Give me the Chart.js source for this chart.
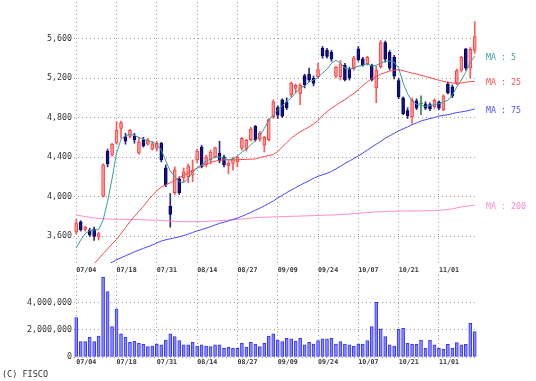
<!DOCTYPE html>
<html><head><meta charset="utf-8">
<script src="https://cdn.jsdelivr.net/npm/chart.js@4.4.1/dist/chart.umd.min.js"></script>
<style>
html,body{margin:0;padding:0;background:#fff;}
#wrap{position:relative;width:536px;height:381px;overflow:hidden;background:#fff;}
canvas{position:absolute;left:0;}
#main{top:0;width:536px;height:280px;}
#vol{top:270px;width:536px;height:100px;}
#copy{position:absolute;left:2px;top:369px;font:8.5px 'DejaVu Sans Mono',monospace;color:#333;line-height:10px;}
</style></head><body>
<div id="wrap">
<canvas id="main" width="536" height="280"></canvas>
<canvas id="vol" width="536" height="100"></canvas>
<div id="copy">(C) FISCO</div>
</div>
<script>
const dates = ['07/04','07/05','07/08','07/09','07/10','07/11','07/12','07/16','07/17','07/18',
'07/19','07/22','07/23','07/24','07/25','07/26','07/29','07/30','07/31','08/01',
'08/02','08/05','08/06','08/07','08/08','08/09','08/13','08/14','08/15','08/16',
'08/19','08/20','08/21','08/22','08/23','08/26','08/27','08/28','08/29','08/30',
'09/02','09/03','09/04','09/05','09/06','09/09','09/10','09/11','09/12','09/13',
'09/17','09/18','09/19','09/20','09/24','09/25','09/26','09/27','09/30','10/01',
'10/02','10/03','10/04','10/07','10/08','10/09','10/10','10/11','10/15','10/16',
'10/17','10/18','10/21','10/22','10/23','10/24','10/25','10/28','10/29','10/30',
'10/31','11/01','11/05','11/06','11/07','11/08','11/11','11/12','11/13','11/14'];
const tickDates = ['07/04','07/18','07/31','08/14','08/27','09/09','09/24','10/07','10/21','11/01'];

const open  = [3640,3745,3668,3660,3668,3590,4000,4460,4420,4540, 4690,4605,4610,4610,4440,4570,4530,4480,4490,4540,
               4290,3900,4040,4180,4185,4200,4220,4370,4500,4320, 4370,4400,4440,4400,4310,4335,4350,4490,4480,4575,
               4710,4580,4520,4575,4810,4900,4980,4960,5030,5095, 5045,5225,5240,5200,5215,5500,5480,5460,5220,5215,
               5330,5290,5295,5495,5395,5345,5330,5100,5315,5560, 5460,5410,5175,5000,4870,4810,4970,4940,4940,4930,
               4910,4960,4880,5140,5110,5150,5280,5495,5300,5480];
const high  = [3770,3755,3700,3680,3690,3640,4330,4480,4540,4760, 4765,4640,4680,4640,4600,4600,4590,4560,4560,4550,
               4320,4030,4300,4200,4290,4330,4370,4480,4520,4420, 4470,4500,4560,4420,4360,4400,4410,4600,4580,4700,
               4720,4660,4610,4790,4980,4920,4990,5000,5160,5140, 5145,5240,5300,5220,5350,5520,5500,5480,5320,5380,
               5350,5310,5420,5520,5410,5420,5340,5320,5580,5575, 5480,5430,5200,5010,4900,5000,4990,5020,4960,4950,
               4990,4970,5030,5160,5130,5290,5420,5500,5510,5770];
const low   = [3620,3650,3650,3595,3555,3560,3995,4300,4410,4530, 4590,4530,4590,4540,4430,4500,4520,4470,4460,4350,
               4100,3690,4020,4020,4150,4140,4150,4340,4290,4300, 4330,4390,4340,4300,4230,4270,4300,4470,4460,4560,
               4560,4560,4450,4560,4790,4790,4800,4880,5010,5050, 4930,5100,5160,5120,5200,5400,5400,5370,5200,5180,
               5170,5180,5280,5370,5320,5330,5170,4950,5300,5360, 5280,5190,4990,4830,4790,4740,4880,4830,4880,4870,
               4890,4880,4870,5040,5000,5130,5260,5280,5200,5450];
const close = [3730,3665,3690,3615,3595,3625,4320,4330,4530,4670, 4750,4560,4670,4575,4555,4515,4575,4535,4540,4370,
               4120,3820,4270,4040,4250,4310,4265,4460,4300,4400, 4450,4495,4360,4320,4340,4385,4400,4590,4570,4680,
               4575,4640,4600,4780,4960,4825,4815,4900,5150,5125, 5125,5130,5180,5145,5285,5425,5420,5390,5310,5345,
               5180,5200,5405,5385,5330,5410,5180,5280,5560,5390, 5300,5220,5010,4840,4820,4975,4895,4940,4895,4890,
               4975,4895,5020,5050,5020,5275,5410,5300,5490,5620];
const volume = [2900000,1130000,1130000,1450000,1130000,1550000,5880000,4820000,2240000,3540000,
                1700000,1450000,1080000,1160000,1010000,930000,760000,810000,960000,890000,
                1250000,1700000,1500000,1210000,890000,890000,1080000,810000,890000,810000,
                760000,890000,890000,640000,710000,640000,640000,1010000,710000,1080000,
                960000,760000,1010000,1550000,1700000,1250000,1130000,1380000,1330000,1180000,
                1380000,890000,1080000,960000,1210000,1330000,1330000,1380000,960000,1130000,
                960000,890000,810000,960000,960000,1210000,2240000,4030000,2070000,1500000,
                890000,810000,2040000,2120000,1010000,930000,930000,1250000,640000,1250000,
                890000,640000,570000,930000,640000,1060000,890000,930000,2480000,1870000];

const ma5 = [3480,3560,3625,3655,3660,3665,3760,3950,4180,4440, 4580,4615,4630,4620,4600,4580,4565,4550,4530,4470,
             4360,4260,4200,4150,4140,4180,4250,4290,4320,4355, 4380,4400,4398,4388,4370,4380,4410,4450,4480,4525,
             4570,4615,4690,4770,4830,4880,4920,4960,5000,5050, 5100,5120,5160,5180,5205,5250,5290,5350,5380,5350,
             5300,5290,5305,5320,5330,5345,5320,5330,5350,5370, 5370,5360,5300,5150,5040,4965,4935,4922,4915,4920,
             4930,4940,4955,4975,5030,5110,5180,5260,5360,5420];
const ma25 = [null,null,null,null,3320,3370,3420,3470,3520,3565, 3625,3685,3745,3800,3850,3900,3960,4010,4060,4095,
              4120,4140,4160,4190,4215,4240,4260,4285,4310,4330, 4345,4358,4368,4372,4372,4370,4372,4375,4376,4378,
              4381,4395,4405,4415,4425,4455,4500,4545,4590,4625, 4655,4680,4705,4735,4770,4820,4860,4895,4925,4955,
              4980,5015,5045,5080,5125,5160,5195,5215,5240,5255, 5270,5280,5285,5275,5262,5250,5240,5228,5215,5204,
              5190,5178,5165,5158,5150,5145,5150,5158,5163,5167];
const ma75 = [null,null,null,null,null,null,null,3310,3335,3360, 3380,3400,3420,3440,3458,3475,3492,3510,3530,3550,
              3562,3572,3582,3592,3605,3620,3636,3652,3665,3680, 3695,3712,3728,3740,3754,3768,3782,3800,3820,3840,
              3862,3882,3905,3930,3955,3985,4012,4040,4065,4090, 4115,4138,4160,4185,4205,4220,4235,4255,4280,4305,
              4335,4360,4385,4412,4440,4470,4500,4530,4558,4590, 4615,4640,4665,4685,4705,4728,4745,4765,4778,4790,
              4800,4815,4822,4828,4840,4850,4857,4865,4875,4887];
const ma200 = [3812,3805,3797,3790,3784,3779,3776,3773,3771,3769, 3769,3769,3769,3768,3766,3764,3762,3761,3760,3758,
               3755,3752,3748,3745,3745,3745,3745,3745,3745,3747, 3750,3753,3756,3759,3762,3765,3768,3772,3776,3781,
               3786,3789,3791,3792,3794,3795,3797,3798,3800,3801, 3802,3804,3805,3807,3809,3810,3812,3813,3815,3817,
               3820,3823,3827,3830,3834,3838,3841,3845,3846,3848, 3850,3851,3852,3853,3854,3854,3855,3855,3856,3856,
               3857,3860,3864,3869,3876,3885,3895,3902,3908,3913];
const priceTicks = [3600,4000,4400,4800,5200,5600];
const volumeTicks = [0,2000000,4000000];

const MONO = "'DejaVu Sans Mono', monospace";
const GRID = '#9a9a9a';
const kind = i => close[i] > open[i] ? 'up' : (close[i] < open[i] ? 'down' : 'flat');
const bodyFill = {up:'#ff9a9a', down:'#14147a', flat:'#3c8c3c'};
const bodyLine = {up:'#ff3c3c', down:'#000070', flat:'#3c8c3c'};
const wickCol  = {up:'#ff5a5a', down:'#2a2a8a', flat:'#3c8c3c'};

const xCommon = (h, pad) => ({
  type:'category', offset:true,
  grid:{offset:false, color:GRID, lineWidth:1, drawTicks:false},
  border:{display:false, dash:[1,3]},
  ticks:{autoSkip:false, maxRotation:0, minRotation:0, align:'start', padding:pad, color:'#333',
         font:{family:MONO, size:6.7, weight:'bold'}},
  afterBuildTicks: s => { s.ticks = s.ticks.filter(t => tickDates.includes(dates[t.value])); },
  afterFit: s => { s.height = h; s.paddingLeft = 0; s.paddingRight = 0; }
});
const yCommon = (mn, mx, tv) => ({
  type:'linear', min:mn, max:mx,
  grid:{color:GRID, lineWidth:1, drawTicks:false},
  border:{display:false, dash:[1,3]},
  ticks:{padding:2, color:'#333', font:{family:MONO, size:8.3}, callback: v => Number(v).toLocaleString('en-US')},
  afterBuildTicks: s => { s.ticks = tv.map(v => ({value:v})); },
  afterFit: s => { s.width = 74; s.paddingTop = 0; s.paddingBottom = 0; }
});

const maLabels = {
  id:'maLabels',
  afterDatasetsDraw(chart){
    const {ctx, chartArea, scales} = chart;
    ctx.save();
    ctx.font = "8.3px " + MONO;
    ctx.textBaseline = 'middle';
    ctx.textAlign = 'left';
    chart.data.datasets.forEach(ds => {
      if (ds.type !== 'line') return;
      const last = ds.data[ds.data.length - 1];
      ctx.fillStyle = ds.labelColor;
      ctx.fillText(ds.label, chartArea.right + 9, scales.y.getPixelForValue(last) + 1.5);
    });
    ctx.restore();
  }
};

const lineDs = (label, data, color, labelColor, order) => ({
  type:'line', label, data, borderColor:color, labelColor, borderWidth:1, pointRadius:0,
  tension:0, fill:false, order
});

new Chart(document.getElementById('main'), {
  type:'bar',
  data:{
    labels: dates,
    datasets:[
      {type:'bar', label:'wick', data: dates.map((d,i) => [low[i], high[i]]),
       backgroundColor: dates.map((d,i) => wickCol[kind(i)]), barThickness:1, grouped:false, order:5},
      {type:'bar', label:'body', data: dates.map((d,i) => [open[i], close[i]]),
       backgroundColor: dates.map((d,i) => bodyFill[kind(i)]), borderColor: dates.map((d,i) => bodyLine[kind(i)]),
       borderWidth:1, borderSkipped:false, barThickness:3, minBarLength:1, grouped:false, order:4},
      lineDs('MA : 200', ma200, '#ff8ccc', '#ff8ccc', 3),
      lineDs('MA : 75', ma75, '#4848ff', '#5050ff', 2),
      lineDs('MA : 25', ma25, '#ff4848', '#ff5050', 1),
      lineDs('MA : 5', ma5, '#3a9c9c', '#3aa0a0', 0)
    ]
  },
  options:{
    responsive:false, animation:false, events:[],
    layout:{padding:{top:2, left:0, right:59, bottom:0}},
    plugins:{legend:{display:false}, tooltip:{enabled:false}},
    scales:{ x: xCommon(17, 3), y: yCommon(3327, 5970, priceTicks) }
  },
  plugins:[maLabels]
});

new Chart(document.getElementById('vol'), {
  type:'bar',
  data:{
    labels: dates,
    datasets:[{label:'volume', data: volume, backgroundColor:'#8a8aff', borderColor:'#3434ff',
      borderWidth:1, borderSkipped:false, barThickness:3, grouped:false}]
  },
  options:{
    responsive:false, animation:false, events:[],
    layout:{padding:{top:5, left:0, right:59, bottom:0}},
    plugins:{legend:{display:false}, tooltip:{enabled:false}},
    scales:{ x: xCommon(13, 1), y: yCommon(0, 6040000, volumeTicks) }
  }
});
</script>
</body></html>
